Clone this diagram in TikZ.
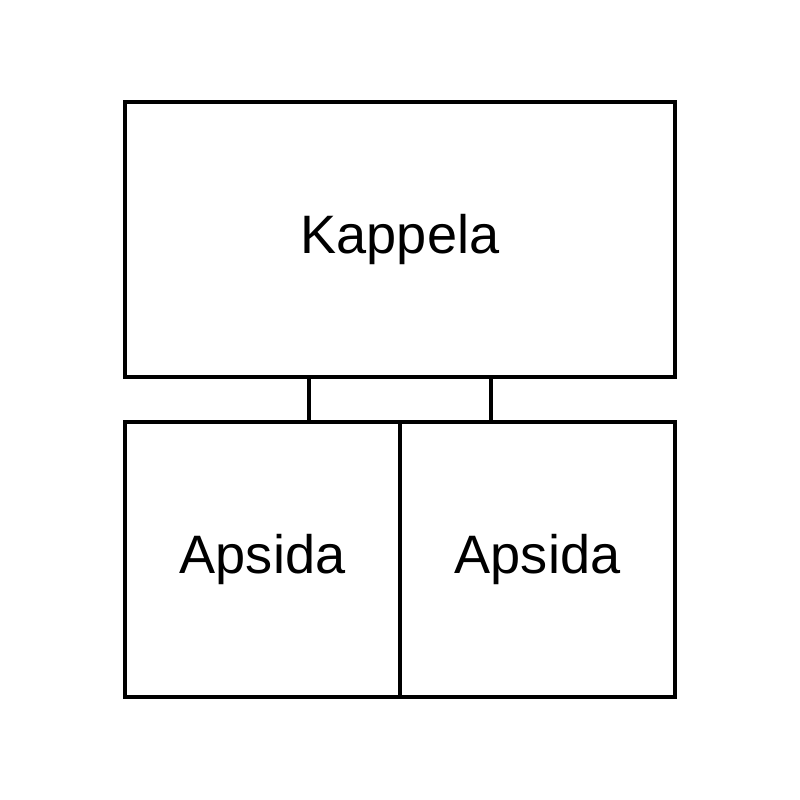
\documentclass[tikz,border=0pt]{standalone}
\usepackage{fontspec}
\setmainfont{Liberation Sans}
\tikzset{
  room/.style={draw,line width=0.04cm,minimum height=2.75cm,inner sep=0pt,
    font=\fontsize{15.4}{18}\selectfont}
}
\begin{document}
\begin{tikzpicture}
      \useasboundingbox (0,0) rectangle (8,8);
      \node[room,minimum width=5.5cm] (kappela) at (4,5.605) {Kappela};
      \node[room,minimum width=2.75cm] (apsidaL) at (2.625,2.405) {Apsida};
      \node[room,minimum width=2.75cm] (apsidaR) at (5.375,2.405) {Apsida};
      \draw[line width=0.04cm] (kappela.south -| 3.09,0) -- (apsidaL.north -| 3.09,0);
      \draw[line width=0.04cm] (kappela.south -| 4.91,0) -- (apsidaR.north -| 4.91,0);
    \end{tikzpicture}
\end{document}
